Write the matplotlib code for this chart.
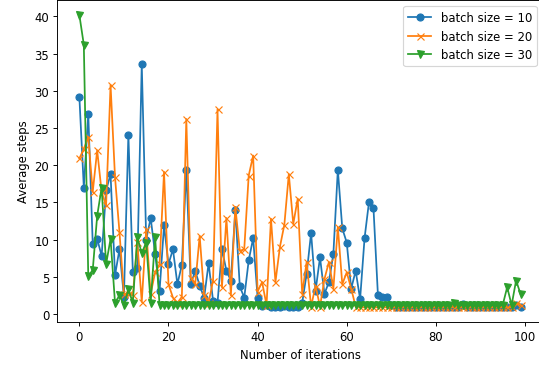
import matplotlib
matplotlib.use('Agg')
import matplotlib.pyplot as plt
import numpy as np

# average steps per iteration
batch10 = [29.2, 17.0, 26.9, 9.4, 10.1, 7.8, 16.6, 18.8, 5.2, 8.7,
           2.3, 24.1, 5.6, 6.2, 33.6, 10.0, 12.9, 8.1, 3.1, 11.9,
           6.7, 8.7, 4.0, 6.6, 19.4, 4.0, 5.8, 3.8, 2.2, 6.8,
           1.8, 1.5, 8.7, 5.8, 4.5, 14.0, 3.7, 2.2, 7.2, 10.2,
           2.2, 1.1, 1.2, 1.0, 1.0, 1.0, 1.1, 1.0, 1.0, 1.0,
           1.5, 5.4, 10.9, 3.1, 7.6, 2.7, 4.3, 8.1, 19.4, 11.5,
           9.6, 3.4, 5.8, 2.0, 10.2, 15.1, 14.2, 2.5, 2.3, 2.3,
           1.2, 1.0, 1.0, 1.0, 1.0, 1.0, 1.0, 1.0, 1.0, 1.0,
           1.0, 1.0, 1.0, 1.0, 1.0, 1.0, 1.4, 1.0, 1.0, 1.0,
           1.0, 1.0, 1.0, 1.0, 1.0, 1.0, 1.0, 1.0, 1.2, 1.0]

batch20 = [20.9, 22.2, 23.8, 16.4, 22.0, 16.4, 14.6, 30.8, 18.4, 11.0,
           2.7, 2.7, 2.5, 9.7, 1.6, 11.4, 2.7, 5.6, 6.7, 19.1,
           4.0, 2.2, 1.5, 2.3, 26.2, 4.9, 4.0, 10.5, 2.5, 1.5,
           4.5, 27.5, 3.6, 12.9, 2.5, 14.4, 8.5, 8.7, 18.6, 21.3,
           3.0, 4.3, 1.2, 12.8, 4.3, 9.0, 12.0, 18.8, 12.1, 15.5,
           2.7, 7.0, 1.0, 3.8, 1.0, 4.7, 7.0, 3.4, 11.7, 4.0,
           5.6, 3.4, 1.0, 0.9, 0.9, 0.9, 0.9, 0.9, 0.9, 0.9,
           0.9, 0.9, 0.9, 0.9, 0.9, 0.9, 0.9, 0.9, 0.9, 0.9,
           0.9, 0.9, 0.9, 0.9, 0.9, 0.9, 0.9, 0.9, 0.9, 0.9,
           0.9, 0.9, 0.9, 0.9, 0.9, 0.9, 0.9, 0.9, 1.5, 1.2]

batch30 = [40.2, 36.2, 5.1, 5.9, 13.2, 17.0, 6.7, 10.1, 1.5, 2.5,
           1.2, 3.3, 1.5, 10.3, 8.2, 9.6, 1.5, 10.3, 1.2, 1.2,
           1.2, 1.2, 1.2, 1.2, 1.2, 1.2, 1.2, 1.2, 1.2, 1.2,
           1.2, 1.2, 1.2, 1.2, 1.2, 1.2, 1.2, 1.2, 1.2, 1.2,
           1.2, 1.2, 1.2, 1.2, 1.2, 1.2, 1.2, 1.2, 1.2, 1.2,
           1.2, 1.2, 1.2, 1.2, 1.2, 1.2, 1.2, 1.2, 1.2, 1.2,
           1.2, 1.2, 1.2, 1.2, 1.2, 1.2, 1.2, 1.2, 1.2, 1.2,
           1.2, 1.2, 1.2, 1.2, 1.2, 1.2, 1.2, 1.2, 1.2, 1.2,
           1.2, 1.2, 1.2, 1.2, 1.5, 1.2, 1.2, 1.2, 1.2, 1.2,
           1.2, 1.2, 1.2, 1.2, 1.2, 1.2, 3.6, 1.2, 4.5, 2.7]

iters = np.arange(0, len(batch10), 1)

# the reference looks cropped on the right, so the axes run past the figure edge
fig = plt.figure(figsize=(539 / 84, 366 / 84), dpi=84)
ax = fig.add_axes([57.3 / 539, 43.1 / 366, 485.3 / 539, 321.6 / 366])

ax.plot(iters, batch10, marker='o', label='batch size = 10')
ax.plot(iters, batch20, marker='x', label='batch size = 20')
ax.plot(iters, batch30, marker='v', label='batch size = 30')

ax.set_xlim(-4.95, 103.95)
ax.set_ylim(-1.065, 42.165)
ax.set_xlabel('Number of iterations')
ax.set_ylabel('Average steps')
ax.legend(loc='upper right')

fig.savefig('out.png', dpi=84)
